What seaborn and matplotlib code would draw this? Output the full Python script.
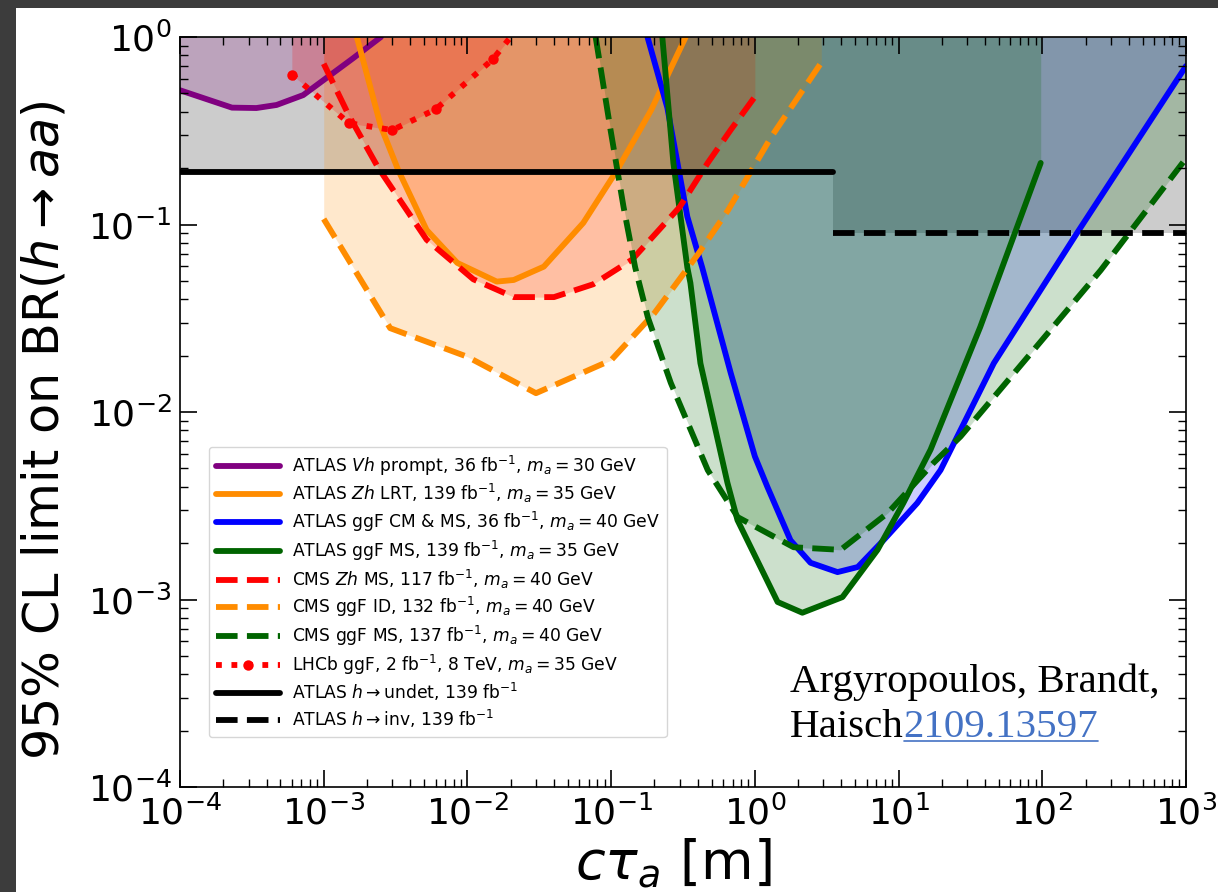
import matplotlib
matplotlib.use("Agg")
import numpy as np
import pandas as pd
import matplotlib.pyplot as plt
from matplotlib.patches import Rectangle
from matplotlib.lines import Line2D
from matplotlib.transforms import IdentityTransform
from matplotlib.ticker import LogLocator, NullFormatter
import seaborn as sns

# ---------------- exclusion limits: BR(h -> aa) versus c*tau_a [m] ----------------
# ATLAS Vh prompt, 36 fb^-1, m_a = 30 GeV
vh_ctau = [1e-4, 2.3e-4, 3.4e-4, 4.7e-4, 7.2e-4, 1e-3, 1.6e-3, 2.5e-3]
vh_br = [0.52, 0.42, 0.418, 0.434, 0.49, 0.59, 0.77, 1.0]

# ATLAS Zh LRT, 139 fb^-1, m_a = 35 GeV
zh_lrt_ctau = [1.7e-3, 2.5e-3, 3.3e-3, 5.2e-3, 8.5e-3, 1.6e-2, 2.1e-2, 3.4e-2, 6.4e-2, 0.11, 0.19, 0.33]
zh_lrt_br = [1.0, 0.333, 0.195, 0.0935, 0.0624, 0.0496, 0.0506, 0.0596, 0.102, 0.195, 0.408, 1.0]

# ATLAS ggF CM & MS, 36 fb^-1, m_a = 40 GeV
cmms_ctau = [0.179, 0.246, 0.339, 0.43, 0.68, 1.0, 1.22, 1.77, 2.44, 3.76, 5.2, 7.85, 13.5, 19.6, 46.0, 176.0, 1000.0]
cmms_br = [1.0, 0.42, 0.11, 0.059, 0.0161, 0.0058, 0.004, 0.00207, 0.00157, 0.0014, 0.00149, 0.00207, 0.00327, 0.0049, 0.0182, 0.091, 0.70]

# ATLAS ggF MS, 139 fb^-1, m_a = 35 GeV
ms139_ctau = [0.227, 0.271, 0.339, 0.356, 0.418, 0.644, 0.757, 1.44, 2.14, 4.07, 7.14, 10.8, 16.7, 37.0, 97.5]
ms139_br = [1.0, 0.213, 0.059, 0.0488, 0.0182, 0.0042, 0.00265, 0.00097, 0.00085, 0.00103, 0.00184, 0.00327, 0.0063, 0.0284, 0.213]

# CMS Zh MS, 117 fb^-1, m_a = 40 GeV
cms_zh_ctau = [1e-3, 1.5e-3, 2.4e-3, 5.2e-3, 1.1e-2, 2.1e-2, 4e-2, 7.5e-2, 0.14, 0.3, 0.47, 0.68, 1.0]
cms_zh_br = [0.72, 0.38, 0.20, 0.083, 0.051, 0.041, 0.041, 0.048, 0.065, 0.124, 0.213, 0.32, 0.48]

# CMS ggF ID, 132 fb^-1, m_a = 40 GeV
cms_id_ctau = [1e-3, 2.9e-3, 1e-2, 3e-2, 0.1, 0.2, 0.4, 0.65, 1.3, 2.9]
cms_id_br = [0.107, 0.028, 0.0197, 0.0126, 0.0189, 0.0337, 0.069, 0.119, 0.293, 0.73]

# CMS ggF MS, 137 fb^-1, m_a = 40 GeV
cms_ms_ctau = [0.078, 0.099, 0.122, 0.147, 0.18, 0.26, 0.47, 0.76, 1.86, 3.95, 8.4, 17.5, 27.0, 87.0, 255.0, 1000.0]
cms_ms_br = [1.0, 0.32, 0.124, 0.059, 0.032, 0.0143, 0.0049, 0.00275, 0.0019, 0.00184, 0.00289, 0.00535, 0.0074, 0.0214, 0.057, 0.225]

# LHCb ggF, 2 fb^-1, 8 TeV, m_a = 35 GeV
lhcb_ctau = [6e-4, 1.5e-3, 3e-3, 6e-3, 1.5e-2, 2e-2]
lhcb_br = [0.63, 0.347, 0.319, 0.411, 0.76, 1.0]

# ATLAS h -> undetected / h -> invisible, 139 fb^-1
undet_ctau = [1e-4, 3.5]
undet_br = [0.19, 0.19]
inv_ctau = [3.5, 1e3]
inv_br = [0.09, 0.09]

series = [
    dict(label=r"ATLAS $Vh$ prompt, 36 fb$^{-1}$, $m_a = 30$ GeV", x=vh_ctau, y=vh_br, color="purple", ls="-"),
    dict(label=r"ATLAS $Zh$ LRT, 139 fb$^{-1}$, $m_a = 35$ GeV", x=zh_lrt_ctau, y=zh_lrt_br, color="darkorange", ls="-"),
    dict(label=r"ATLAS ggF CM & MS, 36 fb$^{-1}$, $m_a = 40$ GeV", x=cmms_ctau, y=cmms_br, color="blue", ls="-"),
    dict(label=r"ATLAS ggF MS, 139 fb$^{-1}$, $m_a = 35$ GeV", x=ms139_ctau, y=ms139_br, color="darkgreen", ls="-"),
    dict(label=r"CMS $Zh$ MS, 117 fb$^{-1}$, $m_a = 40$ GeV", x=cms_zh_ctau, y=cms_zh_br, color="red", ls="--"),
    dict(label=r"CMS ggF ID, 132 fb$^{-1}$, $m_a = 40$ GeV", x=cms_id_ctau, y=cms_id_br, color="darkorange", ls="--"),
    dict(label=r"CMS ggF MS, 137 fb$^{-1}$, $m_a = 40$ GeV", x=cms_ms_ctau, y=cms_ms_br, color="darkgreen", ls="--"),
    dict(label=r"LHCb ggF, 2 fb$^{-1}$, 8 TeV, $m_a = 35$ GeV", x=lhcb_ctau, y=lhcb_br, color="red", ls=":"),
]

sns.set_style("ticks", {
    "axes.edgecolor": "black", "axes.labelcolor": "black", "text.color": "black",
    "xtick.color": "black", "ytick.color": "black",
    "xtick.direction": "in", "ytick.direction": "in",
    "xtick.top": True, "ytick.right": True,
})
plt.rcParams["font.family"] = ["DejaVu Sans"]
plt.rcParams["mathtext.fontset"] = "dejavusans"

W, H = 1218, 892
fig = plt.figure(figsize=(W / 100, H / 100), dpi=100, facecolor="#3c3c3c")
fig.patches.append(Rectangle((16 / W, 0), 1 - 16 / W, (H - 8) / H, transform=fig.transFigure,
                             facecolor="white", edgecolor="none", zorder=-10))
ax = fig.add_axes([180 / W, 1 - 787 / H, 1006 / W, 750 / H])
ax.set_xscale("log")
ax.set_yscale("log")
ax.set_axisbelow(False)

# excluded regions from the undetected / invisible Higgs decay limits
ax.fill_between(undet_ctau, undet_br, 1, color="black", alpha=0.2, lw=0)
ax.fill_between(inv_ctau, inv_br, 1, color="black", alpha=0.2, lw=0)

# excluded regions above each long-lived search curve
for s in series:
    ax.fill_between(s["x"], s["y"], 1, color=s["color"], alpha=0.2, lw=0)

LW = 4.2
for s in series:
    extra = {}
    if s["ls"] == ":":
        extra = dict(marker="o", markersize=7.5, markevery=[0, 1, 2, 3, 4],
                     markeredgecolor=s["color"], markerfacecolor=s["color"], markeredgewidth=0)
    sns.lineplot(x=s["x"], y=s["y"], ax=ax, color=s["color"], linestyle=s["ls"], lw=LW,
                 sort=False, estimator=None, label=s["label"], legend=False, **extra)

sns.lineplot(x=undet_ctau, y=undet_br, ax=ax, color="black", linestyle="-", lw=LW, sort=False,
             estimator=None, label=r"ATLAS $h\to$undet, 139 fb$^{-1}$", legend=False)
sns.lineplot(x=inv_ctau, y=inv_br, ax=ax, color="black", linestyle="--", lw=LW, sort=False,
             estimator=None, label=r"ATLAS $h\to$inv, 139 fb$^{-1}$", legend=False)

ax.set_xlim(1e-4, 1e3)
ax.set_ylim(1e-4, 1)
ax.xaxis.set_major_locator(LogLocator(base=10, numticks=20))
ax.yaxis.set_major_locator(LogLocator(base=10, numticks=20))
ax.xaxis.set_minor_locator(LogLocator(base=10, subs=np.arange(2, 10), numticks=100))
ax.yaxis.set_minor_locator(LogLocator(base=10, subs=np.arange(2, 10), numticks=100))
ax.xaxis.set_minor_formatter(NullFormatter())
ax.yaxis.set_minor_formatter(NullFormatter())
ax.tick_params(which="major", direction="in", length=12, width=1.2, labelsize=26, pad=6,
               top=True, right=True)
ax.tick_params(which="minor", direction="in", length=6, width=1.0, top=True, right=True)
for sp in ax.spines.values():
    sp.set_linewidth(1.2)

ax.set_ylabel(r"95% CL limit on BR($h\to aa$)", fontsize=35.5)
ax.set_xlabel(r"$c\tau_a$ [m]", fontsize=39)
ax.yaxis.set_label_coords(-0.111, 0.476)
ax.xaxis.set_label_coords(0.49, -0.066)

ax.legend(loc="lower left", bbox_to_anchor=((209 - 180) / 1006, (787 - 737) / 750),
          borderaxespad=0, fontsize=12.3, handlelength=3.75, handletextpad=0.7,
          labelspacing=0.27, framealpha=0.8)

# author credit with arXiv reference
y1 = (787 - 692) / 750
y2 = (787 - 737) / 750
x0 = (790 - 180) / 1006
serif = dict(family="Liberation Serif", fontsize=29.5, va="baseline", ha="left",
             transform=ax.transAxes, color="black")
ax.text(x0, y1, "Argyropoulos, Brandt,", **serif)
t2 = ax.text(x0, y2, "Haisch", **serif)
fig.canvas.draw()
renderer = fig.canvas.get_renderer()
bb2 = t2.get_window_extent(renderer)
xa = ax.transAxes.inverted().transform((bb2.x1, bb2.y0))[0]
serif_link = dict(serif)
serif_link["color"] = "#4472c4"
t3 = ax.text(xa, y2, "2109.13597", **serif_link)
fig.canvas.draw()
bb3 = t3.get_window_extent(renderer)
ybase = ax.transAxes.transform((0, y2))[1]
fig.add_artist(Line2D([bb3.x0, bb3.x1], [ybase - 4, ybase - 4], transform=IdentityTransform(),
                      color="#4472c4", lw=1.2))

fig.savefig("out.png", dpi=100)
